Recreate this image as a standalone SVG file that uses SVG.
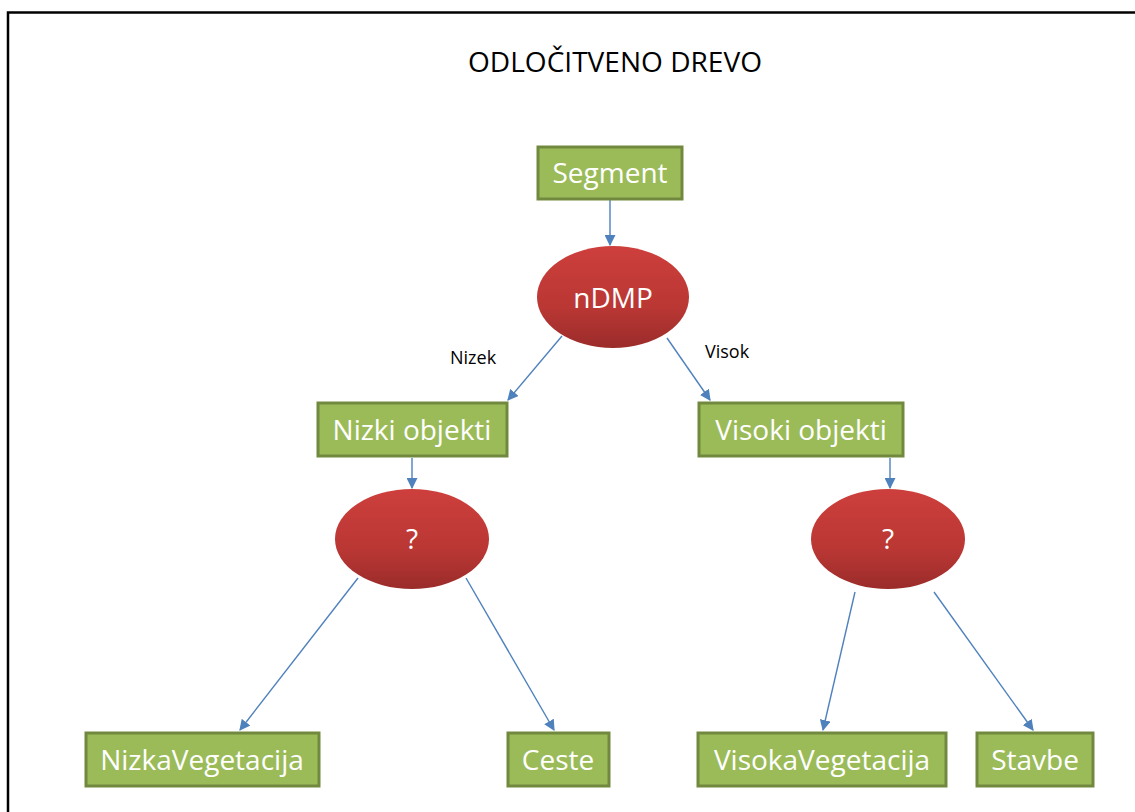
<svg xmlns="http://www.w3.org/2000/svg" width="1135" height="812" viewBox="0 0 1135 812">
  <style>
    .box { fill: #9BBB59; stroke: #71893F; stroke-width: 3; }
    .oval { fill: url(#redGrad); }
    .lbl { font-family: "Open Sans", "Liberation Sans", sans-serif; fill: #FFFFFF; font-size: 28px; text-anchor: middle; }
    .edge-lbl { font-family: "Open Sans", "Liberation Sans", sans-serif; fill: #000000; font-size: 18px; }
    .title { font-family: "Open Sans", "Liberation Sans", sans-serif; fill: #000000; font-size: 27px; text-anchor: middle; }
    .conn { stroke: #4F81BD; stroke-width: 1.4; fill: none; marker-end: url(#arrow); }
  </style>
  <defs>
    <linearGradient id="redGrad" x1="0" y1="0" x2="0" y2="1">
      <stop offset="0" stop-color="#CD3F3C"/>
      <stop offset="0.6" stop-color="#BA3734"/>
      <stop offset="1" stop-color="#9A2C2A"/>
    </linearGradient>
    <marker id="arrow" viewBox="0 0 10 10" refX="9" refY="5" markerWidth="11" markerHeight="11" markerUnits="userSpaceOnUse" orient="auto">
      <path d="M0,0 L10,5 L0,10 z" fill="#4F81BD"/>
    </marker>
  </defs>

  <rect width="1135" height="812" fill="#FFFFFF"/>
  <!-- page frame -->
  <path d="M8,812 V12.5 H1135" fill="none" stroke="#000000" stroke-width="2.5"/>

  <text class="title" x="615" y="72" textLength="294" lengthAdjust="spacingAndGlyphs">ODLOČITVENO DREVO</text>

  <g id="connectors">
    <line class="conn" x1="610" y1="200" x2="610" y2="245"/>
    <line class="conn" x1="562" y1="336" x2="508" y2="400"/>
    <line class="conn" x1="667" y1="338" x2="710" y2="400"/>
    <line class="conn" x1="412" y1="458" x2="412" y2="488"/>
    <line class="conn" x1="890" y1="458" x2="890" y2="488"/>
    <line class="conn" x1="358" y1="578" x2="240" y2="730"/>
    <line class="conn" x1="466" y1="578" x2="554" y2="730"/>
    <line class="conn" x1="855" y1="592" x2="823" y2="730"/>
    <line class="conn" x1="934" y1="592" x2="1033" y2="730"/>
    <text class="edge-lbl" x="450" y="364">Nizek</text>
    <text class="edge-lbl" x="705" y="358">Visok</text>
  </g>

  <g id="segment">
    <rect class="box" x="538" y="147" width="144" height="52"/>
    <text class="lbl" x="610" y="183">Segment</text>
  </g>
  <g id="ndmp">
    <ellipse class="oval" cx="613" cy="297" rx="76" ry="51"/>
    <text class="lbl" x="613" y="308">nDMP</text>
  </g>
  <g id="nizki-objekti">
    <rect class="box" x="318" y="403" width="189" height="53"/>
    <text class="lbl" x="412" y="440">Nizki objekti</text>
  </g>
  <g id="visoki-objekti">
    <rect class="box" x="699" y="403" width="204" height="53"/>
    <text class="lbl" x="801" y="440">Visoki objekti</text>
  </g>
  <g id="q-left">
    <ellipse class="oval" cx="412" cy="539" rx="77" ry="50"/>
    <text class="lbl" x="412" y="549">?</text>
  </g>
  <g id="q-right">
    <ellipse class="oval" cx="888" cy="539" rx="77" ry="50"/>
    <text class="lbl" x="888" y="549">?</text>
  </g>
  <g id="nizka-vegetacija">
    <rect class="box" x="86" y="733" width="233" height="53"/>
    <text class="lbl" x="202" y="770">NizkaVegetacija</text>
  </g>
  <g id="ceste">
    <rect class="box" x="508" y="733" width="101" height="53"/>
    <text class="lbl" x="558" y="770">Ceste</text>
  </g>
  <g id="visoka-vegetacija">
    <rect class="box" x="698" y="733" width="248" height="53"/>
    <text class="lbl" x="822" y="770">VisokaVegetacija</text>
  </g>
  <g id="stavbe">
    <rect class="box" x="977" y="733" width="116" height="53"/>
    <text class="lbl" x="1035" y="770">Stavbe</text>
  </g>
</svg>
